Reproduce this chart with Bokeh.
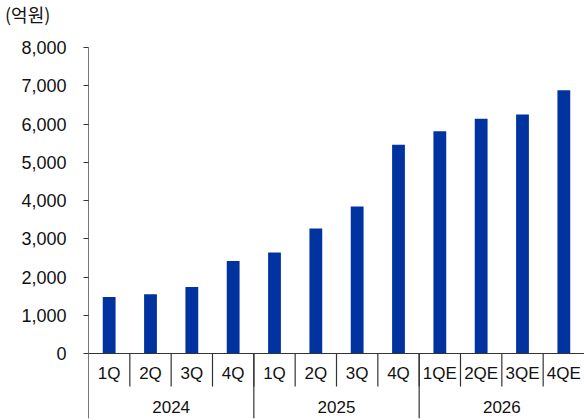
from bokeh.plotting import figure
from bokeh.layouts import column
from bokeh.models import Range1d, FixedTicker, NumeralTickFormatter, Div
from bokeh.core.properties import value
from bokeh.embed import file_html
from bokeh.resources import INLINE

# Quarterly figures (unit: 100 million KRW)
quarters = ["1Q", "2Q", "3Q", "4Q", "1Q", "2Q", "3Q", "4Q", "1QE", "2QE", "3QE", "4QE"]
years = ["2024", "2025", "2026"]
quarters_per_year = 4
sales = [1480, 1550, 1740, 2420, 2640, 3270, 3840, 5460, 5810, 6140, 6250, 6880]
y_ticks = [0, 1000, 2000, 3000, 4000, 5000, 6000, 7000, 8000]
unit_text = "(억원)"

FONT = "'Liberation Sans Narrow', 'Liberation Sans', Arial, sans-serif"
BAR_COLOR = "#0033A0"
LINE_COLOR = "#333333"

# page geometry
W, H = 584, 420
caption_h = 28
left_px, top_px, zero_px, bottom_px = 88, 47, 353, 418
y_max = y_ticks[-1]
px_per_unit = (zero_px - top_px) / y_max
y_min = -(bottom_px - zero_px) / px_per_unit

# unit caption above the chart
caption = Div(text=unit_text, width=W, height=caption_h, margin=(0, 0, 0, 0),
              styles={"font-family": "'Noto Sans CJK KR', sans-serif", "font-size": "18px",
                      "color": "#111111", "padding-left": "5px",
                      "line-height": f"{caption_h}px", "margin": "0"})

n = len(quarters)
fig_h = H - caption_h
p = figure(width=W, height=fig_h, output_backend="svg", toolbar_location=None,
           x_axis_type=None, min_border_left=left_px, min_border_right=0,
           min_border_top=top_px - caption_h, min_border_bottom=H - bottom_px,
           margin=(0, 0, 0, 0))
p.x_range = Range1d(0, n)
p.y_range = Range1d(y_min, y_max)
p.outline_line_color = None
p.grid.visible = False
p.background_fill_color = "white"
p.border_fill_color = "white"

xs = [i + 0.5 for i in range(n)]
p.vbar(x=xs, top=sales, bottom=0, width=0.31, color=BAR_COLOR, line_color=None)

# y axis
ax = p.yaxis[0]
ax.ticker = FixedTicker(ticks=y_ticks)
ax.formatter = NumeralTickFormatter(format="0,0")
ax.major_tick_in = 0
ax.major_tick_out = 5
ax.minor_tick_line_color = None
ax.major_label_standoff = 17
ax.axis_line_color = "#777777"
ax.major_tick_line_color = LINE_COLOR
ax.major_label_text_font = FONT
ax.major_label_text_font_size = "18px"
ax.major_label_text_color = "#111111"

# baseline
p.segment(x0=[0], y0=[0], x1=[n], y1=[0], line_color=LINE_COLOR, line_width=1.2)

# category separators below the baseline
q_len = (386 - zero_px) / px_per_unit
p.segment(x0=list(range(1, n)), y0=[0] * (n - 1), x1=list(range(1, n)),
          y1=[-q_len] * (n - 1), line_color=LINE_COLOR, line_width=1.2)
yr_bounds = [k * quarters_per_year for k in range(1, len(years))]
p.segment(x0=yr_bounds, y0=[0] * len(yr_bounds), x1=yr_bounds,
          y1=[y_min] * len(yr_bounds), line_color=LINE_COLOR, line_width=1.2)

# quarter and year labels
q_y = -(373 - zero_px) / px_per_unit
p.text(x=xs, y=[q_y] * n, text=quarters, text_font=value(FONT),
       text_font_size="17px", text_align="center", text_baseline="middle",
       text_color="#111111")
yr_y = -(406 - zero_px) / px_per_unit
yr_x = [k * quarters_per_year + quarters_per_year / 2 for k in range(len(years))]
p.text(x=yr_x, y=[yr_y] * len(years), text=years, text_font=value(FONT),
       text_font_size="17px", text_align="center", text_baseline="middle",
       text_color="#111111")

page = column(caption, p, spacing=0, margin=(0, 0, 0, 0))
open("out.html", "w").write(file_html(page, INLINE))
